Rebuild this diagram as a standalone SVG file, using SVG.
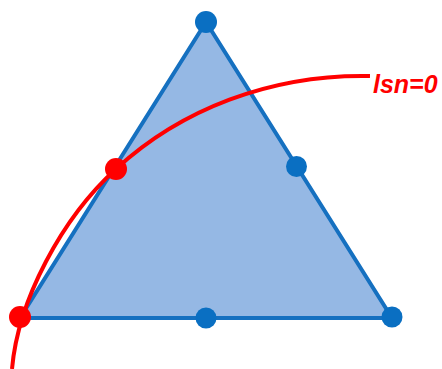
<svg xmlns="http://www.w3.org/2000/svg" width="442" height="369" viewBox="0 0 442 369">
<style>
.tri{fill:#95b8e4;stroke:#1570c0;stroke-width:4;stroke-linejoin:miter}
.bdot{fill:#0a6fc2}
.rdot{fill:#ff0000}
.curve{fill:none;stroke:#ff0000;stroke-width:4}
.lbl{font-family:"Liberation Sans",Arial,sans-serif;font-weight:bold;font-style:italic;font-size:25px;fill:#ff0000}
</style>
<rect width="442" height="369" fill="#ffffff"/>
<g id="triangle">
<polygon class="tri" points="206,22 20,318 392,318"/>
</g>
<g id="connectors">
<path id="lsn-curve" class="curve" d="M12,369 C18,300 62,218 116,169 C180,110 270,74 370,76"/>
</g>
<g id="node-top"><circle class="bdot" cx="206" cy="22" r="11"/></g>
<g id="node-right-mid"><circle class="bdot" cx="296.5" cy="166.5" r="10.5"/></g>
<g id="node-bottom-mid"><circle class="bdot" cx="206" cy="318" r="10.5"/></g>
<g id="node-bottom-right"><circle class="bdot" cx="392" cy="317" r="10.5"/></g>
<g id="node-red-mid"><circle class="rdot" cx="116" cy="169" r="11"/></g>
<g id="node-red-left"><circle class="rdot" cx="20" cy="317" r="11"/></g>
<g id="label"><text class="lbl" x="373" y="93">lsn=0</text></g>
</svg>
